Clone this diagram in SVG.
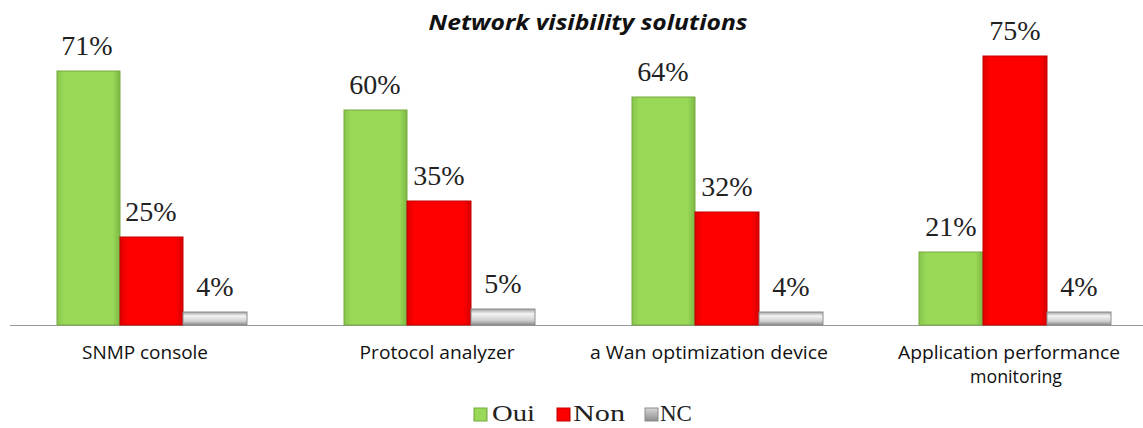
<svg xmlns="http://www.w3.org/2000/svg" width="1143" height="428" viewBox="0 0 1143 428">
<defs>
<linearGradient id="gG" x1="0" y1="0" x2="1" y2="0"><stop offset="0" stop-color="#86c64a"/><stop offset="0.12" stop-color="#9ad958"/><stop offset="0.88" stop-color="#9ad958"/><stop offset="1" stop-color="#7cb844"/></linearGradient>
<linearGradient id="gR" x1="0" y1="0" x2="1" y2="0"><stop offset="0" stop-color="#e00000"/><stop offset="0.12" stop-color="#ff0000"/><stop offset="0.88" stop-color="#ff0000"/><stop offset="1" stop-color="#d80000"/></linearGradient>
<linearGradient id="gN" x1="0" y1="0" x2="0" y2="1"><stop offset="0" stop-color="#a0a0a0"/><stop offset="0.3" stop-color="#f4f4f4"/><stop offset="0.7" stop-color="#d0d0d0"/><stop offset="1" stop-color="#8a8a8a"/></linearGradient>
<linearGradient id="gL" x1="0" y1="0" x2="0" y2="1"><stop offset="0" stop-color="#d8d8d8"/><stop offset="1" stop-color="#8c8c8c"/></linearGradient>
</defs>
<style>
.g{fill:url(#gG);stroke:#76a840;stroke-width:1}
.r{fill:url(#gR);stroke:#c00000;stroke-width:1}
.n{fill:url(#gN);stroke:#8c8c8c;stroke-width:1}
.ln{fill:url(#gL);stroke:#8c8c8c;stroke-width:1}
.v{font-family:"Liberation Serif","DejaVu Serif",serif;font-size:28px;fill:#222;text-anchor:middle}
.c{font-family:"Open Sans","Liberation Sans",sans-serif;font-size:18px;fill:#111;text-anchor:middle}
.t{font-family:"Open Sans","Liberation Sans",sans-serif;font-size:21px;font-weight:bold;font-style:italic;fill:#111;text-anchor:middle}
.l{font-family:"Liberation Serif","DejaVu Serif",serif;font-size:23px;fill:#222}
</style>
<rect width="1143" height="428" fill="#fff"/>
<text class="t" x="588" y="30" textLength="319" lengthAdjust="spacingAndGlyphs">Network visibility solutions</text>
<g id="axis"><line x1="10" y1="325.5" x2="1143" y2="325.5" stroke="#999" stroke-width="1"/></g>
<g id="snmp">
<rect class="g" x="57" y="71" width="63" height="254"/>
<rect class="r" x="120" y="237" width="63" height="88"/>
<rect class="n" x="183" y="312" width="64" height="13"/>
<text class="v" x="87" y="55">71%</text>
<text class="v" x="151" y="221">25%</text>
<text class="v" x="215" y="296">4%</text>
<text class="c" x="145" y="359" textLength="126" lengthAdjust="spacingAndGlyphs">SNMP console</text>
</g>
<g id="protocol">
<rect class="g" x="344" y="110" width="63" height="215"/>
<rect class="r" x="407" y="201" width="64" height="124"/>
<rect class="n" x="471" y="309" width="64" height="16"/>
<text class="v" x="375" y="94">60%</text>
<text class="v" x="439" y="185">35%</text>
<text class="v" x="503" y="293">5%</text>
<text class="c" x="437" y="359" textLength="155" lengthAdjust="spacingAndGlyphs">Protocol analyzer</text>
</g>
<g id="wan">
<rect class="g" x="632" y="97" width="63" height="228"/>
<rect class="r" x="695" y="212" width="64" height="113"/>
<rect class="n" x="759" y="312" width="64" height="13"/>
<text class="v" x="663" y="81">64%</text>
<text class="v" x="727" y="196">32%</text>
<text class="v" x="791" y="296">4%</text>
<text class="c" x="709" y="359" textLength="238" lengthAdjust="spacingAndGlyphs">a Wan optimization device</text>
</g>
<g id="apm">
<rect class="g" x="919" y="252" width="64" height="73"/>
<rect class="r" x="983" y="56" width="64" height="269"/>
<rect class="n" x="1047" y="312" width="64" height="13"/>
<text class="v" x="951" y="236">21%</text>
<text class="v" x="1015" y="40">75%</text>
<text class="v" x="1079" y="296">4%</text>
<text class="c" x="1009" y="359" textLength="222" lengthAdjust="spacingAndGlyphs">Application performance</text>
<text class="c" x="1016" y="383" textLength="92" lengthAdjust="spacingAndGlyphs">monitoring</text>
</g>
<g id="legend">
<rect class="g" x="474" y="408" width="13" height="13"/>
<text class="l" x="492" y="421" textLength="43" lengthAdjust="spacingAndGlyphs">Oui</text>
<rect class="r" x="557" y="408" width="13" height="13"/>
<text class="l" x="573" y="421" textLength="52" lengthAdjust="spacingAndGlyphs">Non</text>
<rect class="ln" x="645" y="408" width="13" height="13"/>
<text class="l" x="660" y="421">NC</text>
</g>
</svg>
